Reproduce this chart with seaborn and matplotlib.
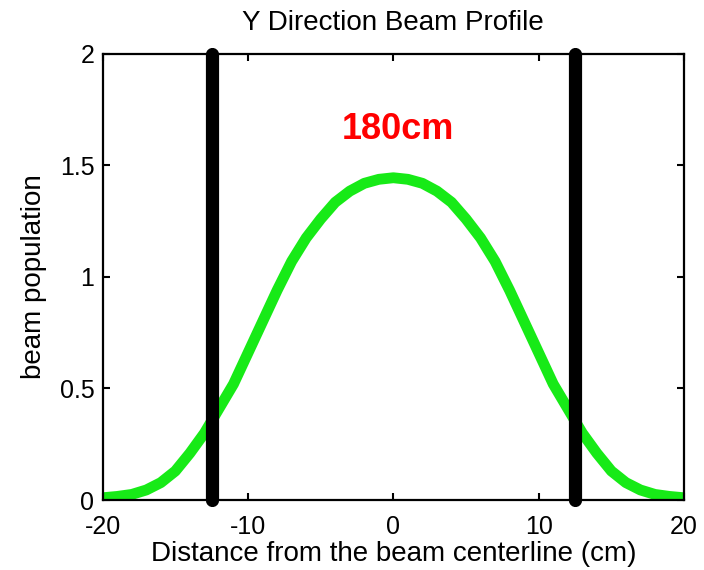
import matplotlib
matplotlib.use("Agg")
import matplotlib.pyplot as plt
import seaborn as sns
import pandas as pd

# Beam profile along Y (cm) and relative population
distance_cm = [-20, -19, -18, -17, -16, -15, -14, -13, -12, -11, -10,
               -9, -8, -7, -6, -5, -4, -3, -2, -1, 0,
               1, 2, 3, 4, 5, 6, 7, 8, 9, 10,
               11, 12, 13, 14, 15, 16, 17, 18, 19, 20]
population = [0.010, 0.016, 0.025, 0.045, 0.078, 0.130, 0.210, 0.300, 0.410, 0.520, 0.660,
              0.800, 0.940, 1.070, 1.175, 1.260, 1.335, 1.385, 1.420, 1.438, 1.445,
              1.438, 1.420, 1.385, 1.335, 1.260, 1.175, 1.070, 0.940, 0.800, 0.660,
              0.520, 0.410, 0.300, 0.210, 0.130, 0.078, 0.045, 0.025, 0.016, 0.010]

# Aperture edges (cm)
aperture_edges = [-12.5, 12.5]
aperture_label = "180cm"

x_ticks = [-20, -10, 0, 10, 20]
y_ticks = [0, 0.5, 1, 1.5, 2]
y_tick_labels = ["0", "0.5", "1", "1.5", "2"]

sns.set_style("ticks")
plt.rcParams["font.family"] = ["Liberation Sans", "DejaVu Sans"]
plt.rcParams["axes.unicode_minus"] = False
plt.rcParams["text.color"] = "black"
plt.rcParams["axes.labelcolor"] = "black"
plt.rcParams["axes.titlecolor"] = "black"

fig = plt.figure(figsize=(7.04, 5.70), dpi=100)
ax = fig.add_axes([0.1459, 0.1228, 0.8257, 0.7825])

df = pd.DataFrame({"distance": distance_cm, "population": population})
sns.lineplot(data=df, x="distance", y="population", ax=ax,
             color="#17ea17", linewidth=7.8, zorder=2,
             solid_capstyle="round", solid_joinstyle="round")

for edge in aperture_edges:
    ax.plot([edge, edge], [0, 2], color="black", linewidth=9.5,
            solid_capstyle="round", zorder=3, clip_on=False)

ax.text(0.3, 1.66, aperture_label, color="red", fontsize=26,
        fontweight="bold", ha="center", va="center")

ax.set_xlim(-20, 20)
ax.set_ylim(0, 2)
ax.set_xticks(x_ticks)
ax.set_yticks(y_ticks)
ax.set_yticklabels(y_tick_labels)
ax.tick_params(direction="in", length=5, width=1.5, labelsize=18,
               top=True, right=True, colors="black")
ax.tick_params(axis="x", pad=10.5)
ax.tick_params(axis="y", pad=6)

for side in ["left", "right", "top", "bottom"]:
    ax.spines[side].set_visible(True)
    ax.spines[side].set_linewidth(1.6)
    ax.spines[side].set_color("black")

ax.set_title("Y Direction Beam Profile", fontsize=20, pad=17)
ax.set_xlabel("Distance from the beam centerline (cm)", fontsize=20, labelpad=2)
ax.set_ylabel("beam population", fontsize=20, labelpad=9)

fig.savefig("out.png", dpi=100)
